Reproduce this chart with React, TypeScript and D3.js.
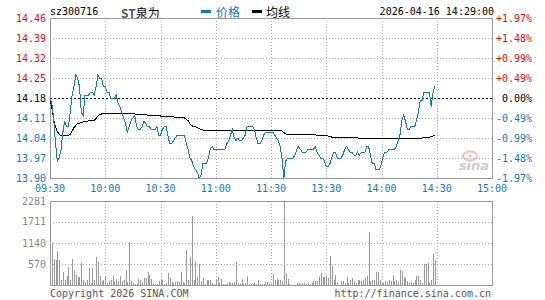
import React from 'react';
import * as d3 from 'd3';

// stock header
const code = 'sz300716';
const stockName = 'ST泉为';
const stamp = '2026-04-16 14:29:00';
const preClose = 14.18;

// axis labels
const priceTicks = [14.46, 14.39, 14.32, 14.25, 14.18, 14.11, 14.04, 13.97, 13.9];
const volumeTicks = [2281, 1711, 1140, 570];
const timeLabels = ['09:30', '10:00', '10:30', '11:00', '11:30', '13:30', '14:00', '14:30', '15:00'];

// minute prices, 09:30 .. 14:29
const prices = [
  14.18, 14.16, 14.11, 14.02, 13.96, 13.97, 14.0, 14.06, 14.1, 14.08,
  14.08, 14.13, 14.19, 14.22, 14.26, 14.25, 14.22, 14.13, 14.12, 14.19,
  14.19, 14.19, 14.2, 14.2, 14.19, 14.22, 14.26, 14.25, 14.25, 14.22,
  14.22, 14.2, 14.2, 14.18, 14.18, 14.18, 14.19, 14.16, 14.15, 14.13,
  14.11, 14.09, 14.06, 14.08, 14.1, 14.11, 14.12, 14.08, 14.07, 14.07,
  14.08, 14.1, 14.09, 14.08, 14.08, 14.07, 14.07, 14.07, 14.08, 14.05,
  14.05, 14.07, 14.08, 14.08, 14.05, 14.02, 14.02, 14.03, 14.04, 14.05,
  14.05, 14.05, 14.05, 14.05, 14.02, 14.0, 13.97, 13.96, 13.94, 13.93,
  13.92, 13.9, 13.91, 13.95, 13.95, 13.95, 13.97, 14.0, 14.01, 14.0,
  14.0, 14.0, 14.0, 14.0, 14.0, 14.0, 14.02, 14.03, 14.05, 14.07,
  14.04, 14.03, 14.04, 14.03, 14.03, 14.04, 14.05, 14.08, 14.08, 14.08,
  14.08, 14.07, 14.04, 14.02, 14.02, 14.03, 14.05, 14.06, 14.06, 14.06,
  14.06, 14.06, 14.05, 14.04, 14.03, 14.01, 13.97, 13.9, 13.96, 13.97,
  13.97, 13.97, 13.97, 13.98, 14.0, 14.01, 14.0, 13.99, 13.99, 13.99,
  14.0, 14.0, 14.0, 14.0, 14.01, 13.99, 13.98, 13.97, 13.97, 13.96,
  13.94, 13.94, 13.95, 13.97, 13.99, 13.99, 13.97, 13.97, 13.97, 13.98,
  14.0, 14.01, 14.0, 13.99, 13.99, 13.98, 13.98, 13.99, 13.98, 13.99,
  13.99, 13.99, 14.01, 14.01, 13.98, 13.95, 13.95, 13.93, 13.93, 13.93,
  13.95, 13.98, 13.99, 13.99, 14.0, 14.0, 14.0, 14.0, 14.01, 14.03,
  14.05, 14.1, 14.12, 14.1, 14.07, 14.07, 14.08, 14.08, 14.08, 14.1,
  14.13, 14.17, 14.17, 14.2, 14.2, 14.2, 14.2, 14.15, 14.2, 14.22,
];

// average price line
const avgPrices = [
  14.178, 14.144, 14.105, 14.08, 14.062, 14.053, 14.047, 14.048, 14.048, 14.048,
  14.049, 14.052, 14.064, 14.076, 14.084, 14.091, 14.092, 14.094, 14.096, 14.097,
  14.098, 14.1, 14.1, 14.101, 14.102, 14.108, 14.117, 14.122, 14.124, 14.125,
  14.125, 14.125, 14.125, 14.125, 14.125, 14.127, 14.127, 14.127, 14.127, 14.127,
  14.126, 14.126, 14.126, 14.125, 14.125, 14.125, 14.124, 14.124, 14.124, 14.123,
  14.123, 14.122, 14.122, 14.12, 14.12, 14.119, 14.119, 14.119, 14.119, 14.119,
  14.117, 14.116, 14.115, 14.115, 14.115, 14.115, 14.115, 14.115, 14.112, 14.112,
  14.112, 14.112, 14.112, 14.11, 14.105, 14.101, 14.089, 14.083, 14.08, 14.079,
  14.076, 14.073, 14.07, 14.068, 14.068, 14.068, 14.068, 14.068, 14.068, 14.068,
  14.068, 14.068, 14.068, 14.068, 14.068, 14.068, 14.068, 14.068, 14.068, 14.068,
  14.068, 14.066, 14.066, 14.066, 14.066, 14.065, 14.065, 14.065, 14.065, 14.065,
  14.065, 14.065, 14.065, 14.065, 14.065, 14.065, 14.065, 14.065, 14.065, 14.065,
  14.065, 14.065, 14.065, 14.065, 14.065, 14.065, 14.065, 14.059, 14.054, 14.054,
  14.054, 14.054, 14.054, 14.054, 14.054, 14.054, 14.054, 14.054, 14.054, 14.054,
  14.054, 14.054, 14.054, 14.054, 14.051, 14.049, 14.049, 14.049, 14.049, 14.049,
  14.049, 14.047, 14.046, 14.043, 14.043, 14.043, 14.043, 14.043, 14.043, 14.043,
  14.042, 14.042, 14.042, 14.042, 14.042, 14.042, 14.042, 14.04, 14.039, 14.039,
  14.039, 14.039, 14.039, 14.039, 14.038, 14.037, 14.037, 14.037, 14.037, 14.037,
  14.037, 14.037, 14.037, 14.037, 14.037, 14.037, 14.037, 14.037, 14.037, 14.037,
  14.037, 14.037, 14.037, 14.037, 14.037, 14.037, 14.037, 14.037, 14.037, 14.037,
  14.037, 14.037, 14.04, 14.041, 14.041, 14.042, 14.043, 14.045, 14.047, 14.049,
];

// minute volumes
const volumes = [
  415, 1136, 712, 685, 929, 685, 144, 343, 144, 234,
  487, 126, 712, 415, 280, 216, 216, 595, 144, 80,
  144, 460, 54, 460, 144, 757, 613, 234, 117, 144,
  216, 54, 99, 144, 234, 72, 162, 99, 234, 99,
  144, 397, 90, 1172, 99, 54, 30, 40, 160, 140,
  90, 200, 190, 343, 270, 150, 60, 30, 40, 100,
  150, 130, 40, 60, 325, 200, 80, 60, 90, 100,
  70, 343, 80, 50, 956, 140, 757, 1875, 140, 658,
  220, 568, 100, 180, 40, 140, 140, 140, 60, 30,
  140, 220, 60, 160, 40, 30, 50, 70, 50, 50,
  80, 622, 60, 40, 160, 40, 60, 243, 40, 30,
  20, 50, 30, 144, 30, 20, 40, 80, 80, 20,
  40, 306, 144, 170, 144, 144, 100, 2281, 334, 170,
  30, 0, 0, 0, 55, 55, 30, 55, 55, 30,
  55, 30, 55, 117, 117, 117, 207, 334, 225, 225,
  252, 180, 793, 523, 144, 261, 60, 0, 100, 100,
  45, 216, 50, 126, 198, 117, 45, 126, 126, 99,
  144, 180, 252, 1443, 99, 144, 144, 343, 343, 144,
  81, 54, 99, 81, 144, 99, 270, 99, 144, 90,
  415, 388, 225, 180, 99, 45, 72, 54, 144, 234,
  234, 144, 54, 568, 568, 604, 54, 144, 848, 667,
];

const BLUE = '#0a7acb';
const RED = '#f00';
const GRID = '#aaa';
const BORDER = '#999';
const mono = 'DejaVu Sans Mono, monospace';

const px = (v: number) => Math.round(v) + 0.5;

export default function App() {
  const x = d3.scaleLinear().domain([0, 240]).range([50, 492]);
  const y = d3.scaleLinear().domain([13.9, 14.46]).range([178, 18]);
  const yv = d3.scaleLinear().domain([0, 2281]).range([285, 201]);

  const priceLine = d3.line<number>().x((_, i) => x(i)).y(d => y(d));
  const vGrid = d3.range(30, 240, 30);

  const colorFor = (p: number) => (Math.abs(p - preClose) < 1e-6 ? '#000' : p > preClose ? RED : BLUE);
  const pct = (p: number) => {
    const v = ((p - preClose) / preClose) * 100;
    const s = Math.abs(v).toFixed(2) + '%';
    return Math.abs(v) < 1e-6 ? s : (v > 0 ? '+' : '-') + s;
  };

  return (
    <svg width={545} height={300} style={{ position: 'absolute', left: 0, top: 0, background: '#fff' }}>
      {/* header */}
      <g fontSize={10} fontFamily={mono} dominantBaseline="central">
        <text x={50} y={11.5} fill="#000">{code}</text>
        <text x={121} y={11.5} fontSize={12} fontFamily="Noto Sans CJK SC">
          <tspan fill="#555" fontWeight="bold">{stockName.slice(0, 2)}</tspan>
          <tspan fill="#000">{stockName.slice(2)}</tspan>
        </text>
        <rect x={201} y={10} width={10} height={3} fill={BLUE} />
        <text x={216} y={11.5} fill={BLUE} fontSize={12} fontFamily="Noto Sans CJK SC">价格</text>
        <rect x={252} y={10} width={10} height={3} fill="#000" />
        <text x={266} y={11.5} fill="#000" fontSize={12} fontFamily="Noto Sans CJK SC">均线</text>
        <text x={494} y={11.5} textAnchor="end" fill="#000">{stamp}</text>
      </g>

      {/* price grid */}
      <g shapeRendering="crispEdges">
        {priceTicks.slice(1, -1).map(t => (
          <line key={t} x1={50} x2={492} y1={px(y(t))} y2={px(y(t))}
            stroke={t === preClose ? '#000' : GRID}
            strokeDasharray={t === preClose ? '2,2' : '1,2'} />
        ))}
        {vGrid.map(m => (
          <line key={m} x1={px(x(m))} x2={px(x(m))} y1={18} y2={178} stroke={GRID} strokeDasharray="1,2" />
        ))}
        <rect x={50.5} y={18.5} width={442} height={160} fill="none" stroke={BORDER} />
      </g>

      {/* sina watermark */}
      <g opacity={0.5}>
        <ellipse cx={470} cy={156} rx={7} ry={4.5} fill="none" stroke="#f08080" strokeWidth={2} />
        <circle cx={470} cy={156} r={1.8} fill="#f08080" />
        <text x={474} y={170} textAnchor="middle" fontFamily="DejaVu Sans" fontWeight="bold"
          fontStyle="italic" fontSize={13} fill="#999">sina</text>
      </g>

      {/* lines */}
      <path d={priceLine(avgPrices) || ''} fill="none" stroke="#000" strokeWidth={1} shapeRendering="crispEdges" />
      <path d={priceLine(prices) || ''} fill="none" stroke={BLUE} strokeWidth={1} shapeRendering="crispEdges" />

      {/* price axis labels */}
      <g fontSize={10} fontFamily={mono} dominantBaseline="central">
        {priceTicks.map(t => (
          <text key={'l' + t} x={46} y={y(t)} textAnchor="end" fill={colorFor(t)}>{t.toFixed(2)}</text>
        ))}
        {priceTicks.map(t => (
          <text key={'r' + t} x={532} y={y(t)} textAnchor="end" fill={colorFor(t)}>{pct(t)}</text>
        ))}
        {timeLabels.map((s, k) => (
          <text key={s} x={x(k * 30)} y={188} textAnchor="middle" fill={BLUE}>{s}</text>
        ))}
      </g>

      {/* volume panel */}
      <g shapeRendering="crispEdges">
        {volumeTicks.slice(1).map(t => (
          <line key={t} x1={50} x2={492} y1={px(yv(t))} y2={px(yv(t))} stroke={GRID} strokeDasharray="1,2" />
        ))}
        {vGrid.map(m => (
          <line key={m} x1={px(x(m))} x2={px(x(m))} y1={201} y2={285} stroke={GRID} strokeDasharray="1,2" />
        ))}
        {volumes.map((v, i) => (
          v > 0 ? <line key={i} x1={px(x(i))} x2={px(x(i))} y1={285} y2={yv(v)} stroke="#999" /> : null
        ))}
        <rect x={50.5} y={201.5} width={442} height={84} fill="none" stroke={BORDER} />
      </g>
      <g fontSize={10} fontFamily={mono} dominantBaseline="central">
        {volumeTicks.map(t => (
          <text key={t} x={46} y={yv(t)} textAnchor="end" fill="#888">{t}</text>
        ))}
        <text x={50} y={293} fill="#555">Copyright 2026 SINA.COM</text>
        <text x={491} y={293} textAnchor="end" fill="#555">http://finance.sina.com.cn</text>
      </g>
    </svg>
  );
}
